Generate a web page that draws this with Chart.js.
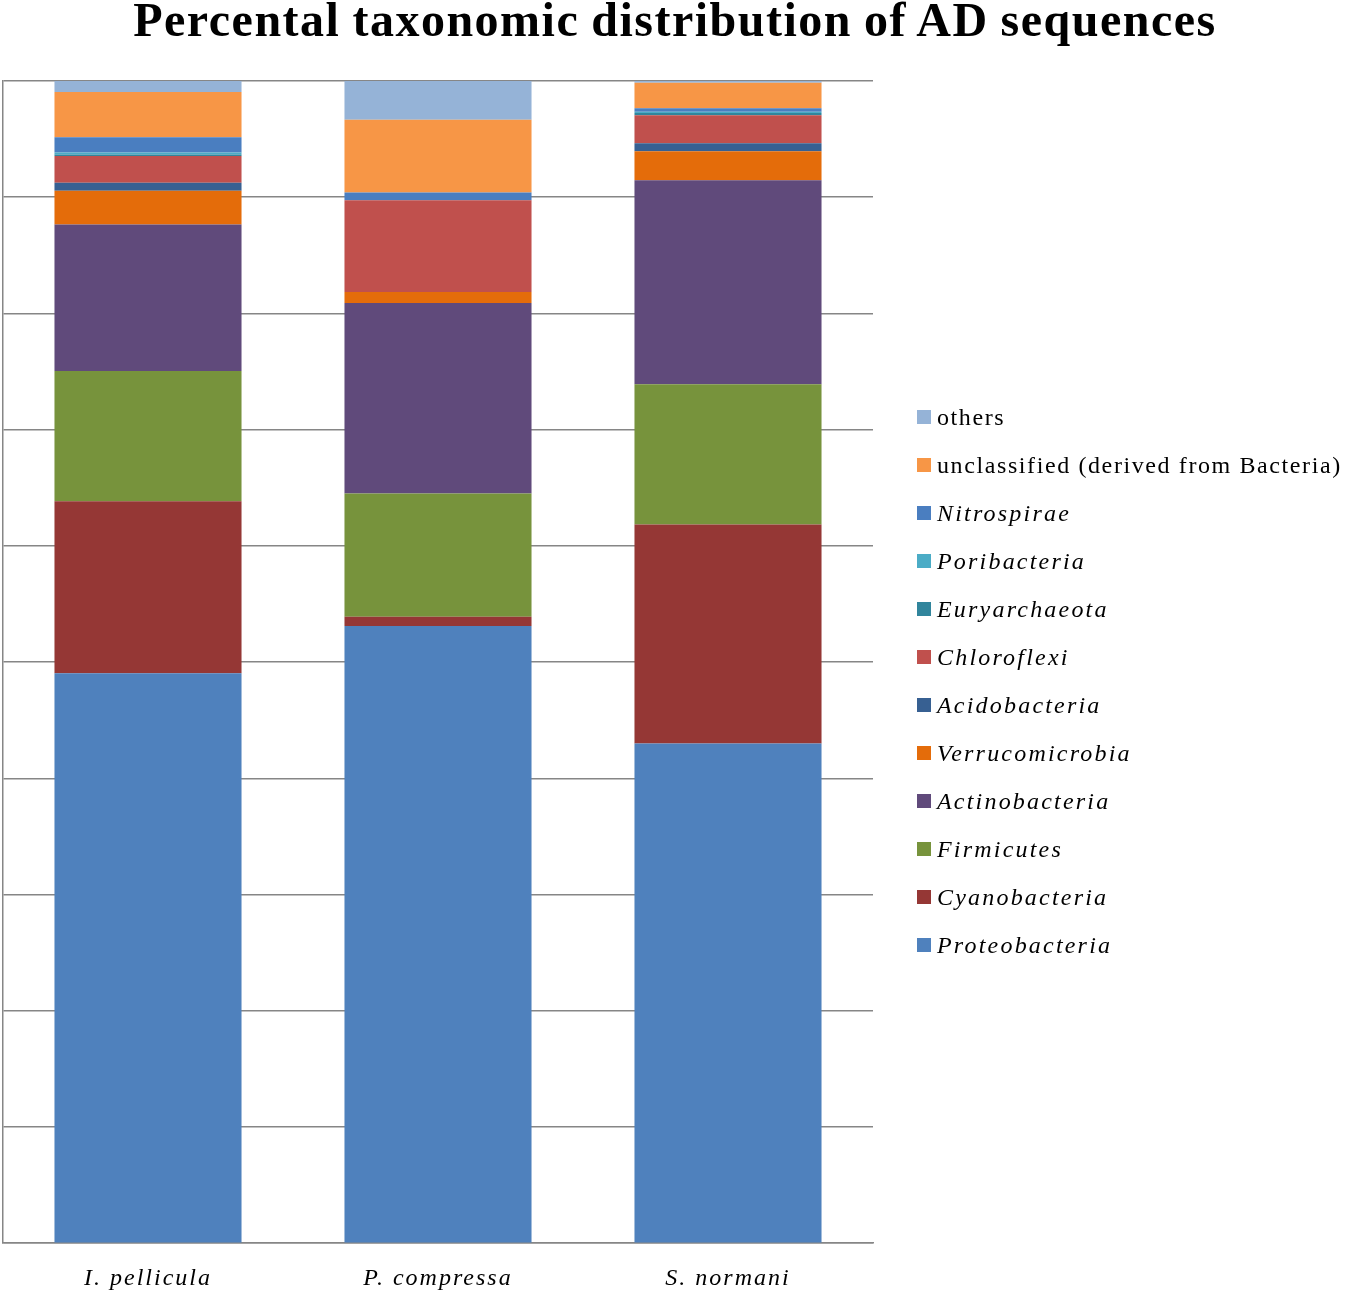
<!DOCTYPE html>
<html>
<head>
<meta charset="utf-8">
<script src="https://cdn.jsdelivr.net/npm/chart.js@4"></script>
<style>
	body { margin: 0; background: #fff; }
	#wrap { position: relative; width: 1350px; height: 1297px; }
	#title { position: absolute; left: 0; width: 1350px; top: -4px; text-align: center; font-family: 'Liberation Serif', 'Times New Roman', serif; font-weight: bold; font-size: 48px; line-height: 48px; letter-spacing: 1.5px; word-spacing: -1.5px; color: #000; white-space: nowrap; }
	#legend { position: absolute; left: 917px; top: 405px; font-family: 'Liberation Serif', 'Times New Roman', serif; font-size: 24px; color: #000; }
	#legend .item { height: 48px; line-height: 24px; white-space: nowrap; position: relative; padding-left: 20px; letter-spacing: 1.6px; }
	#legend .box { position: absolute; left: 0; top: 5px; width: 14px; height: 14px; }
	#legend .it { font-style: italic; letter-spacing: 2.2px; }
</style>
</head>
<body>
<div id="wrap">
	<canvas id="graph_taxa"></canvas>
	<div id="title">Percental taxonomic distribution of AD sequences</div>
	<div id="legend"></div>
</div>
<script>
var samples = ["I. pellicula", "P. compressa", "S. normani"];

// percentages, bottom of the stack first
var proteobacteria   = [49.05, 53.1, 43.0];
var cyanobacteria    = [14.8, 0.8, 18.85];
var firmicutes       = [11.2, 10.6, 12.05];
var actinobacteria   = [12.6, 16.4, 17.55];
var verrucomicrobia  = [2.9, 0.95, 2.5];
var acidobacteria    = [0.7, 0, 0.7];
var chloroflexi      = [2.3, 7.9, 2.4];
var euryarchaeota    = [0.12, 0, 0.2];
var poribacteria     = [0.18, 0, 0.1];
var nitrospirae      = [1.3, 0.66, 0.3];
var unclassified     = [3.9, 6.25, 2.2];
var others           = [1.0, 3.4, 0.15];

var series_names = ["Proteobacteria", "Cyanobacteria", "Firmicutes", "Actinobacteria", "Verrucomicrobia", "Acidobacteria", "Chloroflexi", "Euryarchaeota", "Poribacteria", "Nitrospirae", "unclassified (derived from Bacteria)", "others"];
var series_values = [proteobacteria, cyanobacteria, firmicutes, actinobacteria, verrucomicrobia, acidobacteria, chloroflexi, euryarchaeota, poribacteria, nitrospirae, unclassified, others];
var series_colors = ['#4F81BD', '#953735', '#77933C', '#604A7B', '#E46C0A', '#376092', '#C0504D', '#31859C', '#4BACC6', '#4A7EC0', '#F79646', '#95B3D7'];
var upright_names = ["unclassified (derived from Bacteria)", "others"];

var y_ticks = [0, 10, 20, 30, 40, 50, 60, 70, 80, 90, 100];

var graph_datasets = [];
for(var i = 0; i < series_names.length; i++){
	graph_datasets.push({
		label: series_names[i],
		data: series_values[i],
		backgroundColor: series_colors[i],
		borderWidth: 0,
		barPercentage: 0.645,
		categoryPercentage: 1.0
	});
}

//wider letter spacing for the category labels, like the original figure
var spacing_plugin = {
	id: 'spacing',
	beforeDraw: function(chart){
		chart.ctx.letterSpacing = '2px';
	}
};

var graph_taxa_config = {
	type: 'bar',
	data: {
		labels: samples,
		datasets: graph_datasets
	},
	plugins: [spacing_plugin],
	options: {
		animation: false,
		responsive: true,
		maintainAspectRatio: false,
		layout: {
			padding: { left: 3, right: 477, top: 81, bottom: -17 }
		},
		scales: {
			x: {
				stacked: true,
				grid: { display: false, drawTicks: false },
				border: { display: true, color: '#868686', width: 1.5 },
				ticks: {
					font: { family: "'Liberation Serif', serif", size: 24, style: 'italic' },
					color: '#000',
					padding: 21
				}
			},
			y: {
				stacked: true,
				min: y_ticks[0],
				max: y_ticks[y_ticks.length - 1],
				afterBuildTicks: function(axis){
					axis.ticks = y_ticks.map(function(v){ return { value: v }; });
				},
				ticks: { display: false },
				grid: { color: '#868686', lineWidth: 1.5, drawTicks: false },
				border: { display: true, color: '#868686', width: 1.5 }
			}
		},
		plugins: {
			legend: { display: false },
			tooltip: { enabled: false },
			title: { display: false }
		}
	}
};

function build_legend(){
	var legend = document.getElementById('legend');
	//legend lists the top of the stack first
	for(var i = series_names.length - 1; i >= 0; i--){
		var item = document.createElement('div');
		item.className = 'item';
		var box = document.createElement('span');
		box.className = 'box';
		box.style.background = series_colors[i];
		var txt = document.createElement('span');
		txt.textContent = series_names[i];
		if(upright_names.indexOf(series_names[i]) < 0){
			txt.className = 'it';
		}
		item.appendChild(box);
		item.appendChild(txt);
		legend.appendChild(item);
	}
}

document.addEventListener("DOMContentLoaded", function(){
	build_legend();
	new Chart(document.getElementById("graph_taxa").getContext('2d'), graph_taxa_config);
});
</script>
</body>
</html>
